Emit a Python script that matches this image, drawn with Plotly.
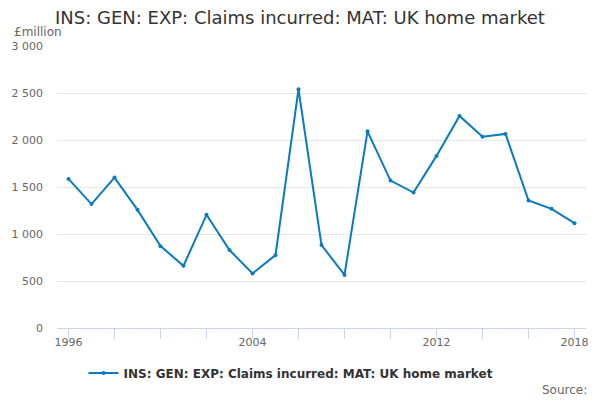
import plotly.graph_objects as go

years = list(range(1996, 2019))
claims = [1586, 1318, 1600, 1257, 871, 662, 1204, 829, 580, 775,
          2540, 882, 565, 2092, 1568, 1441, 1831, 2256, 2034, 2065,
          1356, 1268, 1115]

x_tick_vals = [1996, 2004, 2012, 2018]
x_tick_text = ["1996", "2004", "2012", "2018"]
y_tick_vals = [0, 500, 1000, 1500, 2000, 2500, 3000]

title = "INS: GEN: EXP: Claims incurred: MAT: UK home market"
series_name = "INS: GEN: EXP: Claims incurred: MAT: UK home market"

W, H = 600, 400
ml, mr, mt, mb = 57, 14, 46, 72
pw = W - ml - mr
ph = H - mt - mb

fig = go.Figure()
fig.add_trace(go.Scatter(
    x=years, y=claims, name=series_name, mode="lines+markers",
    line=dict(color="#0a7bc2", width=2),
    marker=dict(size=4, color="#0a7bc2"),
))

fig.update_layout(
    width=W, height=H,
    margin=dict(l=ml, r=mr, t=mt, b=mb, autoexpand=False),
    paper_bgcolor="white", plot_bgcolor="white",
    font=dict(family="DejaVu Sans", color="#666666"),
    separators=". ",
    title=dict(text=title, x=55 / W, xanchor="left", xref="container",
               y=1 - 18 / H, yanchor="middle",
               font=dict(size=18, color="#333333")),
    showlegend=True,
    legend=dict(orientation="h", x=0.485, xanchor="center", xref="container",
                y=1 - 373 / H, yanchor="middle", yref="container",
                font=dict(size=12, color="#333333", weight="bold")),
    annotations=[
        dict(text="£million", xref="paper", yref="paper",
             x=(12 - ml) / pw, xanchor="left", y=1 + (mt - 32) / ph, yanchor="middle",
             showarrow=False, font=dict(size=12, color="#666666")),
        dict(text="Source:", xref="paper", yref="paper",
             x=(589 - ml) / pw, xanchor="right", y=-(390 - mt - ph) / ph, yanchor="middle",
             showarrow=False, font=dict(size=12, color="#666666")),
    ],
)

fig.update_xaxes(
    range=[1995.5, 2018.5], tickvals=x_tick_vals, ticktext=x_tick_text,
    automargin=False,
    showgrid=False, zeroline=False, showline=True, linecolor="#ccd6eb", linewidth=1,
    ticks="outside", ticklen=10, tickcolor="#ccd6eb", ticklabelstandoff=-6,
    minor=dict(dtick=2, tick0=1996, ticks="outside", ticklen=10, tickcolor="#ccd6eb", showgrid=False),
    tickfont=dict(size=11, color="#666666"),
)
fig.update_yaxes(
    range=[0, 3000], tickvals=y_tick_vals, tickformat=",d",
    automargin=False, ticklabelstandoff=13,
    showgrid=True, gridcolor="#e6e6e6", zeroline=False, showline=False,
    ticks="", tickfont=dict(size=11, color="#666666"),
)

# page has a default 8px body margin; drop it so the figure fills the window
fig.write_html("out.html", config={"displayModeBar": False},
               post_script="document.body.style.margin='0';")
